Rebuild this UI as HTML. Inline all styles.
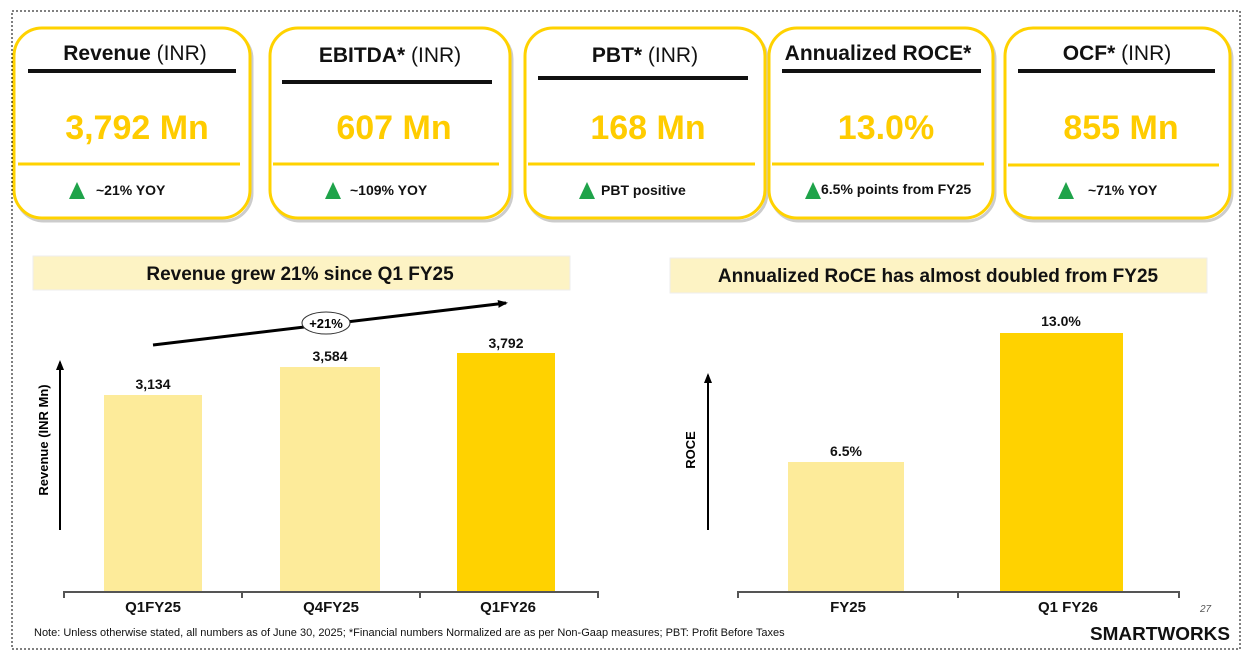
<!DOCTYPE html>
<html><head><meta charset="utf-8"><style>
html,body{margin:0;padding:0;background:#fff;}
svg{display:block;font-family:"Liberation Sans",sans-serif;}
</style></head><body>
<svg width="1246" height="660" viewBox="0 0 1246 660" xmlns="http://www.w3.org/2000/svg">
<defs><marker id="ah" markerUnits="userSpaceOnUse" markerWidth="10" markerHeight="10" refX="8" refY="5" orient="auto"><path d="M0,1 L10,5 L0,9 z" fill="#000"/></marker></defs>
<rect x="12" y="11" width="1228" height="638" fill="none" stroke="#000" stroke-width="1" stroke-dasharray="2,2"/>
<g stroke-width="3">
 <g transform="translate(2,3)" fill="none" stroke="#ccc"><rect x="14" y="28" width="236" height="190" rx="28"/><rect x="270" y="28" width="240" height="190" rx="28"/><rect x="525" y="28" width="240" height="190" rx="28"/><rect x="769" y="28" width="224" height="190" rx="28"/><rect x="1005" y="28" width="225" height="190" rx="28"/></g>
 <g fill="#fff" stroke="#ffd200"><rect x="14" y="28" width="236" height="190" rx="28"/><rect x="270" y="28" width="240" height="190" rx="28"/><rect x="525" y="28" width="240" height="190" rx="28"/><rect x="769" y="28" width="224" height="190" rx="28"/><rect x="1005" y="28" width="225" height="190" rx="28"/></g>
</g>
<g stroke="#111" stroke-width="4"><line x1="28" y1="71" x2="236" y2="71"/><line x1="282" y1="82" x2="492" y2="82"/><line x1="538" y1="78" x2="748" y2="78"/><line x1="782" y1="71" x2="981" y2="71"/><line x1="1018" y1="71" x2="1215" y2="71"/></g>
<g stroke="#ffd200" stroke-width="3"><line x1="18" y1="164" x2="240" y2="164"/><line x1="273" y1="164" x2="499" y2="164"/><line x1="528" y1="164" x2="755" y2="164"/><line x1="772" y1="164" x2="984" y2="164"/><line x1="1008" y1="165" x2="1219" y2="165"/></g>
<g font-size="21" text-anchor="middle" fill="#111">
 <text x="135" y="60"><tspan font-weight="bold">Revenue</tspan> (INR)</text>
 <text x="390" y="62"><tspan font-weight="bold">EBITDA*</tspan> (INR)</text>
 <text x="645" y="62"><tspan font-weight="bold">PBT*</tspan> (INR)</text>
 <text x="878" y="60" font-weight="bold">Annualized ROCE*</text>
 <text x="1117" y="60"><tspan font-weight="bold">OCF*</tspan> (INR)</text>
</g>
<g font-size="34" font-weight="bold" text-anchor="middle" fill="#ffcc00">
 <text x="137" y="139">3,792 Mn</text><text x="394" y="139">607 Mn</text><text x="648" y="139">168 Mn</text><text x="886" y="139">13.0%</text><text x="1121" y="139">855 Mn</text>
</g>
<g fill="#1fa34a"><path d="M69,199 L77,182 L85,199z"/><path d="M325,199 L333,182 L341,199z"/><path d="M579,199 L587,182 L595,199z"/><path d="M805,199 L813,182 L821,199z"/><path d="M1058,199 L1066,182 L1074,199z"/></g>
<g font-size="14" font-weight="bold" fill="#111">
 <text x="96" y="195">~21% YOY</text><text x="350" y="195">~109% YOY</text><text x="601" y="195">PBT positive</text><text x="821" y="194">6.5% points from FY25</text><text x="1088" y="195">~71% YOY</text>
</g>
<rect x="33" y="256" width="537" height="34" fill="#fdf3c4" stroke="#eee"/>
<text x="300" y="280" font-size="19" font-weight="bold" text-anchor="middle" fill="#111">Revenue grew 21% since Q1 FY25</text>
<rect x="670" y="258" width="537" height="35" fill="#fdf3c4" stroke="#eee"/>
<text x="938" y="282" font-size="19" font-weight="bold" text-anchor="middle" fill="#111">Annualized RoCE has almost doubled from FY25</text>
<line x1="153" y1="345" x2="506" y2="303" stroke="#000" stroke-width="3" marker-end="url(#ah)"/>
<ellipse cx="326" cy="323" rx="24" ry="11" fill="#fff" stroke="#333"/>
<text x="326" y="328" font-size="13" text-anchor="middle" font-weight="bold">+21%</text>
<rect x="104" y="395" width="98" height="197" fill="#fdeb9a"/>
<rect x="280" y="367" width="100" height="225" fill="#fdeb9a"/>
<rect x="457" y="353" width="98" height="239" fill="#ffd200"/>
<rect x="788" y="462" width="116" height="130" fill="#fdeb9a"/>
<rect x="1000" y="333" width="123" height="259" fill="#ffd200"/>
<g font-size="14" font-weight="bold" text-anchor="middle" fill="#111">
 <text x="153" y="389">3,134</text><text x="330" y="361">3,584</text><text x="506" y="348">3,792</text>
 <text x="846" y="456">6.5%</text><text x="1061" y="326">13.0%</text>
</g>
<g stroke="#555" stroke-width="2" fill="none">
 <path d="M64,598 V592 H598 V598 M242,592 V598 M420,592 V598"/>
 <path d="M738,598 V592 H1179 V598 M958,592 V598"/>
</g>
<line x1="60" y1="530" x2="60" y2="362" stroke="#000" stroke-width="2" marker-end="url(#ah)"/>
<line x1="708" y1="530" x2="708" y2="375" stroke="#000" stroke-width="2" marker-end="url(#ah)"/>
<text transform="translate(48,440) rotate(-90)" font-size="13" font-weight="bold" text-anchor="middle">Revenue (INR Mn)</text>
<text transform="translate(695,450) rotate(-90)" font-size="13" font-weight="bold" text-anchor="middle">ROCE</text>
<g font-size="15" font-weight="bold" text-anchor="middle" fill="#111">
 <text x="153" y="612">Q1FY25</text><text x="331" y="612">Q4FY25</text><text x="508" y="612">Q1FY26</text>
 <text x="848" y="612">FY25</text><text x="1068" y="612">Q1 FY26</text>
</g>
<text x="1200" y="612" font-size="10" fill="#555" font-style="italic">27</text>
<text x="34" y="636" font-size="11" fill="#111">Note: Unless otherwise stated, all numbers as of June 30, 2025; *Financial numbers Normalized are as per Non-Gaap measures; PBT: Profit Before Taxes</text>
<text x="1230" y="640" font-size="18" font-weight="bold" text-anchor="end" fill="#111" textLength="140" lengthAdjust="spacingAndGlyphs">SMARTWORKS</text>
</svg>
</body></html>
